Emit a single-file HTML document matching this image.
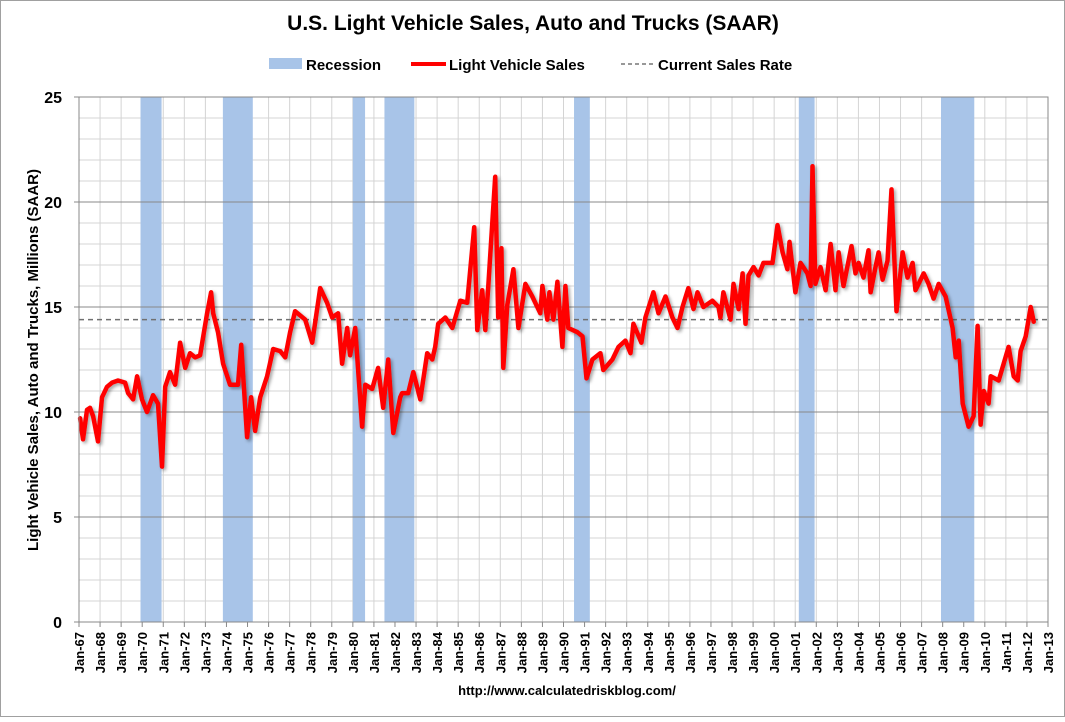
<!DOCTYPE html>
<html><head><meta charset="utf-8"><style>
html,body{margin:0;padding:0;background:#fff;}
body{width:1065px;height:717px;overflow:hidden;font-family:"Liberation Sans",sans-serif;}
</style></head><body>
<svg id="chart" width="1065" height="717" xmlns="http://www.w3.org/2000/svg" font-family="Liberation Sans, sans-serif">
<defs><filter id="sh" x="-5%" y="-5%" width="110%" height="110%"><feDropShadow dx="2" dy="2" stdDeviation="1.5" flood-color="#000" flood-opacity="0.35"/></filter></defs>
<rect x="0.5" y="0.5" width="1064" height="716" fill="#fff" stroke="#a0a0a0"/>
<text x="533" y="30" text-anchor="middle" font-size="21" font-weight="bold" fill="#000">U.S. Light Vehicle Sales, Auto and Trucks (SAAR)</text>
<g>
<rect x="269" y="58" width="33" height="11" fill="#a8c4e8"/>
<text x="306" y="70" font-size="15" font-weight="bold">Recession</text>
<line x1="411" y1="64" x2="446" y2="64" stroke="#f00" stroke-width="4"/>
<text x="449" y="70" font-size="15" font-weight="bold">Light Vehicle Sales</text>
<line x1="621" y1="64" x2="656" y2="64" stroke="#777" stroke-width="1.5" stroke-dasharray="4,3"/>
<text x="658" y="70" font-size="15" font-weight="bold">Current Sales Rate</text>
</g>
<g id="plot"></g>
<text transform="translate(38,360) rotate(-90)" text-anchor="middle" font-size="15" font-weight="bold">Light Vehicle Sales, Auto and Trucks, Millions (SAAR)</text>
<text x="567" y="695" text-anchor="middle" font-size="13" font-weight="bold">http://www.calculatedriskblog.com/</text>
</svg>
<script>
const yTicks=[0,5,10,15,20,25];
const recStart=[1969.92,1973.83,1980.0,1981.5,1990.5,2001.17,2007.92];
const recEnd=[1970.92,1975.25,1980.58,1982.92,1991.25,2001.92,2009.5];
const currentRate=14.4;
const years=[1967.05,1967.19,1967.38,1967.52,1967.67,1967.90,1968.09,1968.33,1968.57,1968.85,1969.19,1969.33,1969.57,1969.76,1969.99,1970.23,1970.52,1970.75,1970.94,1971.09,1971.32,1971.56,1971.80,1972.04,1972.27,1972.51,1972.75,1973.08,1973.27,1973.37,1973.60,1973.84,1974.17,1974.55,1974.70,1974.98,1975.17,1975.36,1975.60,1975.93,1976.22,1976.55,1976.79,1977.02,1977.26,1977.74,1978.07,1978.45,1978.78,1979.02,1979.30,1979.49,1979.73,1979.87,1980.11,1980.44,1980.59,1980.92,1981.20,1981.44,1981.68,1981.92,1982.25,1982.34,1982.63,1982.87,1983.20,1983.53,1983.77,1983.91,1984.05,1984.39,1984.72,1985.10,1985.43,1985.76,1985.91,1986.14,1986.29,1986.43,1986.76,1986.90,1987.05,1987.14,1987.33,1987.62,1987.86,1988.19,1988.52,1988.90,1989.00,1989.23,1989.33,1989.52,1989.71,1989.95,1990.09,1990.23,1990.66,1990.90,1991.09,1991.37,1991.75,1991.89,1992.32,1992.61,1992.94,1993.18,1993.32,1993.70,1993.89,1994.27,1994.51,1994.84,1995.17,1995.41,1995.65,1995.93,1996.17,1996.36,1996.64,1997.07,1997.36,1997.45,1997.59,1997.93,1998.07,1998.31,1998.50,1998.64,1998.78,1999.02,1999.26,1999.49,1999.92,2000.16,2000.40,2000.63,2000.73,2001.01,2001.25,2001.58,2001.73,2001.82,2001.96,2002.20,2002.44,2002.68,2002.91,2003.06,2003.29,2003.67,2003.86,2004.01,2004.24,2004.48,2004.58,2004.81,2004.96,2005.15,2005.38,2005.57,2005.81,2006.10,2006.33,2006.57,2006.71,2007.10,2007.33,2007.57,2007.81,2008.14,2008.47,2008.62,2008.76,2008.95,2009.23,2009.47,2009.66,2009.80,2009.95,2010.18,2010.28,2010.66,2011.13,2011.37,2011.56,2011.70,2011.94,2012.18,2012.32];
const sales=[9.7,8.7,10.1,10.2,9.8,8.6,10.7,11.2,11.4,11.5,11.4,10.9,10.6,11.7,10.6,10.0,10.8,10.4,7.4,11.2,11.9,11.3,13.3,12.1,12.8,12.6,12.7,14.7,15.7,14.7,13.8,12.3,11.3,11.3,13.2,8.8,10.7,9.1,10.7,11.7,13.0,12.9,12.6,13.8,14.8,14.4,13.3,15.9,15.2,14.5,14.7,12.3,14.0,12.7,14.0,9.3,11.3,11.1,12.1,10.2,12.5,9.0,10.7,10.9,10.9,11.9,10.6,12.8,12.5,13.1,14.2,14.5,14.0,15.3,15.2,18.8,13.9,15.8,13.9,16.0,21.2,14.5,17.8,12.1,15.1,16.8,14.0,16.1,15.5,14.7,16.0,14.4,15.7,14.4,16.2,13.1,16.0,14.0,13.8,13.6,11.6,12.5,12.8,12.0,12.5,13.1,13.4,12.8,14.2,13.3,14.5,15.7,14.7,15.5,14.5,14.0,15.0,15.9,14.9,15.7,15.0,15.3,15.0,14.5,15.7,14.4,16.1,14.9,16.6,14.2,16.5,16.9,16.5,17.1,17.1,18.9,17.6,16.8,18.1,15.7,17.1,16.6,16.0,21.7,16.1,16.9,15.8,18.0,15.8,17.6,16.0,17.9,16.6,17.1,16.4,17.7,15.7,16.9,17.6,16.3,17.2,20.6,14.8,17.6,16.4,17.1,15.8,16.6,16.1,15.4,16.1,15.5,14.0,12.6,13.4,10.4,9.3,9.8,14.1,9.4,11.0,10.4,11.7,11.5,13.1,11.7,11.5,12.9,13.6,15.0,14.3];

const NS='http://www.w3.org/2000/svg';
const L=79,R=1048,T=97,B=622,Y0=1967,Y1=2013;
const xs=y=>L+(y-Y0)/(Y1-Y0)*(R-L);
const ys=v=>B-v/25*(B-T);
const plot=document.getElementById('plot');
function mk(tag,attrs,parent){const e=document.createElementNS(NS,tag);for(const k in attrs)e.setAttribute(k,attrs[k]);(parent||plot).appendChild(e);return e;}

const bg=mk('rect',{x:L,y:T,width:R-L,height:B-T,fill:'#fff'});


// minor horizontal grid
for(let v=1;v<25;v++){if(v%5===0)continue;const g=mk('line',{x1:L,x2:R,y1:ys(v),y2:ys(v),stroke:'#d4d4d4','stroke-width':1});

}
// vertical grid
for(let y=Y0+1;y<Y1;y++){const g=mk('line',{x1:xs(y),x2:xs(y),y1:T,y2:B,stroke:'#d4d4d4','stroke-width':1});

}
// recessions
for(let i=0;i<recStart.length;i++){const r=mk('rect',{x:xs(recStart[i]),y:T,width:xs(recEnd[i])-xs(recStart[i]),height:B-T,fill:'#a8c4e8'});

}
// major grid + y ticks
yTicks.forEach(v=>{if(v>0&&v<25){const g=mk('line',{x1:L,x2:R,y1:ys(v),y2:ys(v),stroke:'#888','stroke-width':1});

}
const tk=mk('line',{x1:L-5,x2:L,y1:ys(v),y2:ys(v),stroke:'#888'});


const t=mk('text',{x:L-17,y:ys(v)+6,'text-anchor':'end','font-size':16,'font-weight':'bold'});t.textContent=v;

});
// current rate
const cr=mk('line',{x1:L,x2:R,y1:ys(currentRate),y2:ys(currentRate),stroke:'#707070','stroke-width':1.5,'stroke-dasharray':'5,4'});


// sales line
const pts=years.map((y,i)=>xs(y).toFixed(1)+','+ys(sales[i]).toFixed(1)).join(' ');
const pl=mk('polyline',{points:pts,fill:'none',stroke:'#f00','stroke-width':4.5,'stroke-linejoin':'round','stroke-linecap':'round',filter:'url(#sh)'});


// border
const bd=mk('rect',{x:L,y:T,width:R-L,height:B-T,fill:'none',stroke:'#888','stroke-width':1});


// x ticks and labels
for(let y=Y0;y<=Y1;y++){const x=xs(y);
const tk=mk('line',{x1:x,x2:x,y1:B,y2:B+5,stroke:'#888'});


const t=mk('text',{transform:`translate(${x+5},${B+10}) rotate(-90)`,'text-anchor':'end','font-size':13,'font-weight':'bold'});
t.textContent='Jan-'+String(y%100).padStart(2,'0');

}
</script>
</body></html>
